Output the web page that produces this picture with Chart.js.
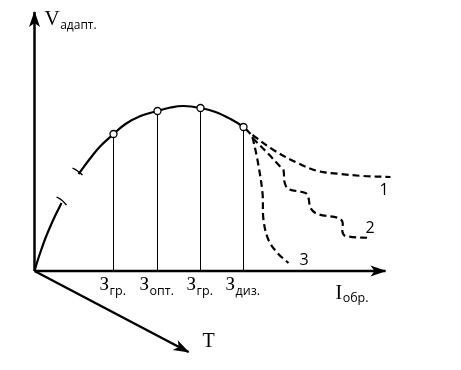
<!DOCTYPE html>
<html>
<head>
<meta charset="utf-8">
<script src="https://cdn.jsdelivr.net/npm/chart.js@4/dist/chart.umd.min.js"></script>
<style>
  html, body { margin: 0; padding: 0; background: #fff; }
  #wrap { width: 461px; height: 370px; }
</style>
</head>
<body>
<div id="wrap"><canvas id="grafico" width="461" height="370"></canvas></div>
<script>
// origem no cruzamento dos eixos: x para a direita (I обр.), y para cima (V адапт.)
const lowCurveX = [0, 3, 7, 11, 16, 21, 27];
const lowCurveY = [0, 10, 22, 33, 45, 56, 68];
const highCurveX = [44, 56, 66, 79, 91, 106, 123, 136, 149, 166, 181, 196, 209, 216];
const highCurveY = [97, 113, 125, 137, 147, 155, 160, 163.5, 165, 163, 159, 152, 144, 137];

// pontos marcados (З гр., З опт., З гр., З диз.)
const markX = [79, 123, 166, 209];
const markY = [137, 160, 163, 144];
const markMain = ["З", "З", "З", "З"];
const markSub = ["гр.", "опт.", "гр.", "диз."];

// curvas tracejadas 1, 2, 3
const dash1X = [218, 239, 263, 283, 306, 329, 356];
const dash1Y = [136, 121, 108, 100, 97, 95, 94];
const dash2X = [218, 233, 246, 249, 250, 254, 271, 274, 276, 283, 304, 308, 308, 311, 336];
const dash2Y = [133, 118, 104, 101, 89, 82, 78, 73, 63, 57, 53, 49, 39, 35, 33];
const dash3X = [218, 223, 228, 229, 234, 243, 254];
const dash3Y = [134, 111, 78, 51, 31, 18, 8];
const curveNames = ["1", "2", "3"];
const curveNameX = [345, 331, 265];
const curveNameY = [76, 38, 6];

// eixos (início e ponta)
const axisV = [[0, 0], [0, 259]];
const axisI = [[0, 0], [351, 0]];
const axisT = [[0, 0], [154, -81]];

// marcas de interrupção da curva
const breakLow = [[22, 74], [27, 71], [32, 66]];
const breakHigh = [[38, 103], [43, 100], [48, 96]];

function pts(xs, ys) {
  return xs.map((x, i) => ({ x: x, y: ys[i] }));
}
function pairs(arr) {
  return arr.map(p => ({ x: p[0], y: p[1] }));
}

const black = "#000";

function lineSet(data, width, extra) {
  return Object.assign({
    data: data,
    showLine: true,
    borderColor: black,
    borderWidth: width,
    pointRadius: 0,
    fill: false,
    tension: 0,
  }, extra || {});
}

let datasets = [];

// círculos (primeiro = desenhado por cima)
datasets.push({
  data: pts(markX, markY),
  showLine: false,
  pointRadius: 3.5,
  pointBackgroundColor: "#fff",
  pointBorderColor: black,
  pointBorderWidth: 1.3,
});

datasets.push(lineSet(pts(lowCurveX, lowCurveY), 2.2, { tension: 0.4 }));
datasets.push(lineSet(pts(highCurveX, highCurveY), 2.2, { tension: 0.4 }));
datasets.push(lineSet(pairs(breakLow), 1.4, { tension: 0.5 }));
datasets.push(lineSet(pairs(breakHigh), 1.4, { tension: 0.5 }));

markX.forEach((x, i) => {
  datasets.push(lineSet([{ x: x, y: 0 }, { x: x, y: markY[i] }], 1));
});

[[dash1X, dash1Y], [dash2X, dash2Y], [dash3X, dash3Y]].forEach(d => {
  datasets.push(lineSet(pts(d[0], d[1]), 2.2, { tension: 0.35, borderDash: [7, 4] }));
});

[axisV, axisI, axisT].forEach(a => {
  datasets.push(lineSet(pairs(a), 2.5));
});

// desenha pontas de seta e textos
const extras = {
  id: "extras",
  afterDatasetsDraw(chart) {
    const ctx = chart.ctx;
    const sx = chart.scales.x, sy = chart.scales.y;
    const px = v => sx.getPixelForValue(v);
    const py = v => sy.getPixelForValue(v);

    [axisV, axisI, axisT].forEach(a => {
      const x0 = px(a[0][0]), y0 = py(a[0][1]);
      const x1 = px(a[1][0]), y1 = py(a[1][1]);
      const ang = Math.atan2(y1 - y0, x1 - x0);
      ctx.save();
      ctx.translate(x1, y1);
      ctx.rotate(ang);
      ctx.fillStyle = black;
      ctx.beginPath();
      ctx.moveTo(1, 0);
      ctx.lineTo(-15, -5.5);
      ctx.lineTo(-11, 0);
      ctx.lineTo(-15, 5.5);
      ctx.closePath();
      ctx.fill();
      ctx.restore();
    });

    function withSub(main, sub, x, y, mainSize, subSize, align, drop) {
      ctx.font = mainSize + "px 'Liberation Serif'";
      const w1 = ctx.measureText(main).width;
      ctx.font = subSize + "px 'Open Sans'";
      const w2 = ctx.measureText(sub).width;
      let left = x;
      if (align === "center") left = x - (w1 + w2) / 2;
      ctx.fillStyle = black;
      ctx.textBaseline = "alphabetic";
      ctx.textAlign = "left";
      ctx.font = mainSize + "px 'Liberation Serif'";
      ctx.fillText(main, left, y);
      ctx.font = subSize + "px 'Open Sans'";
      ctx.fillText(sub, left + w1 + 0.5, y + drop);
    }

    ctx.save();
    withSub("V", "адапт.", px(10), py(246), 21, 12, "left", 4);
    markX.forEach((x, i) => {
      withSub(markMain[i], markSub[i], px(x) - 1, py(-19), 19, 12.5, "center", 5);
    });
    withSub("I", "обр.", px(301), py(-28), 20, 12.5, "left", 3);
    ctx.font = "20px 'Liberation Serif'";
    ctx.fillText("T", px(168), py(-76));
    ctx.font = "16px 'Open Sans'";
    curveNames.forEach((n, i) => {
      ctx.fillText(n, px(curveNameX[i]), py(curveNameY[i]));
    });
    ctx.restore();
  }
};

new Chart(document.getElementById("grafico"), {
  type: "scatter",
  data: { datasets: datasets },
  options: {
    responsive: false,
    animation: false,
    events: [],
    layout: { padding: 0, autoPadding: false },
    plugins: { legend: { display: false }, tooltip: { enabled: false } },
    scales: {
      x: { type: "linear", min: -34.5, max: 426.5, display: false },
      y: { type: "linear", min: -99, max: 271, display: false },
    },
  },
  plugins: [extras],
});
</script>
</body>
</html>
